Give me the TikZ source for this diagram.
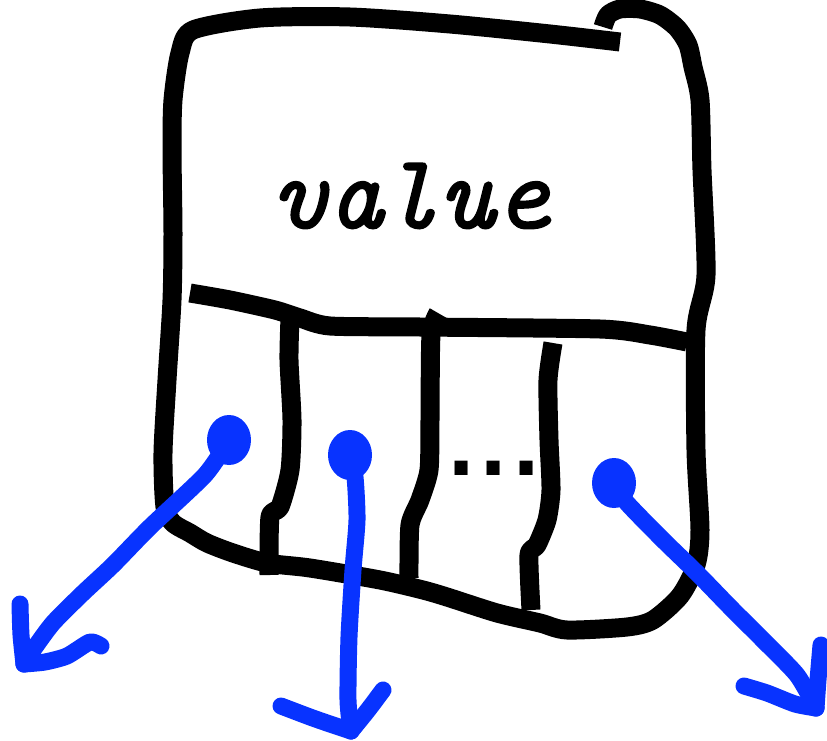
\documentclass[tikz,border=0pt]{standalone}
\usepackage{fontspec}
\newfontfamily\dotsfont{DejaVu Sans Mono}
\newfontfamily\valuefont{Latin Modern Mono}[FakeBold=1.6]
\definecolor{penblue}{RGB}{8,51,255}
\usetikzlibrary{shapes.geometric}
\tikzset{
  ink/.style={line width=19pt, line join=round, black},
  blueink/.style={line width=17pt, line join=round, line cap=round, penblue},
  blob/.style={ellipse, fill=penblue, inner sep=0pt, minimum width=44pt, minimum height=50pt},
}
\begin{document}
\begin{tikzpicture}[x=1pt,y=-1pt]
\useasboundingbox (0,0) rectangle (827,741);
% outer box
\draw[ink] plot[smooth, tension=0.45] coordinates {
 (620,42) (550,34) (450,24) (350,17) (260,18) (193,30) (180,53) (173,100)
 (172,150) (173,233) (172,300) (167,380) (163,453) (165,507) (173,523)
 (190,533) (207,543) (233,553) (267,563) (310,568) (380,580) (423,590)
 (447,597) (497,613) (540,623) (567,630) (627,627) (653,620) (680,596)
 (696,565) (700,530) (696,450) (696,330) (706,275) (702,170) (700,100)
 (693,67) (688,45) (677,28) (660,15) (640,9) (620,9) (608,15) (603,27)};
% divider
\draw[ink] plot[smooth, tension=0.4] coordinates {
 (190,293) (230,300) (275,310) (300,318) (330,326) (420,327) (600,329) (650,335) (687,342)};
% vertical separators
\draw[ink] plot[smooth, tension=0.4] coordinates {
 (290,318) (289,360) (292,420) (290,470) (280,507) (270,517) (269,575)};
\draw[ink] plot[smooth, tension=0.4] coordinates {
 (438,313) (431,335) (430,420) (429,470) (420,500) (410,525) (409,578)};
\draw[ink] plot[smooth, tension=0.4] coordinates {
 (553,343) (548,380) (549,440) (551,490) (547,520) (537,545) (529,555) (531,610)};
% texts
\node[anchor=base, inner sep=0pt] (val) at (411,228) {\valuefont\itshape\fontsize{106}{106}\selectfont value};
\node[anchor=base, inner sep=0pt] (dots) at (494,475) {\dotsfont\bfseries\fontsize{80}{80}\selectfont .\kern-16pt.\kern-16pt.};
% blue pointers
\node[blob] (b1) at (229,440) {};
\node[blob] (b2) at (350,455) {};
\node[blob] (b3) at (614,483) {};
\coordinate (t1) at (24,664);
\coordinate (t2) at (351,731);
\coordinate (t3) at (816,708);
\draw[blueink] plot[smooth, tension=0.4] coordinates {
 (b1.center) (205,475) (150,527) (113,565) (83,593) (53,623) (33,650) (t1)};
\draw[blueink] plot[smooth, tension=0.4] coordinates {(20,604) (21,635) (t1)};
\draw[blueink] plot[smooth, tension=0.4] coordinates {(t1) (45,662) (67,656) (90,642) (101,646)};
\draw[blueink] plot[smooth, tension=0.4] coordinates {
 (b2.center) (355,477) (357,520) (353,570) (349,637) (348,700) (t2)};
\draw[blueink] plot[smooth, tension=0.4] coordinates {(281,706) (310,717) (330,724) (t2)};
\draw[blueink] plot[smooth, tension=0.4] coordinates {(383,690) (368,710) (t2)};
\draw[blueink] plot[smooth, tension=0.4] coordinates {
 (b3.center) (627,503) (663,540) (697,573) (730,607) (763,640) (797,675) (t3)};
\draw[blueink] plot[smooth, tension=0.4] coordinates {(821,645) (818,680) (t3)};
\draw[blueink] plot[smooth, tension=0.4] coordinates {(744,686) (767,693) (795,704) (t3)};
\end{tikzpicture}
\end{document}
